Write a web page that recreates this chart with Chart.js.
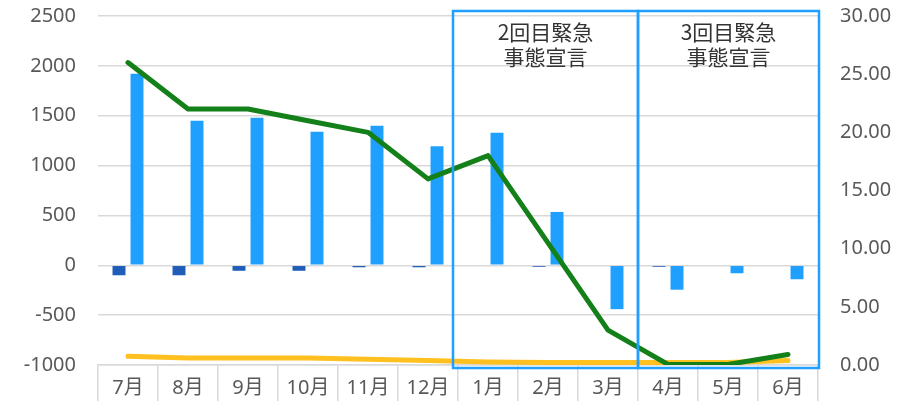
<!DOCTYPE html>
<html lang="ja">
<head>
<meta charset="utf-8">
<script src="https://cdn.jsdelivr.net/npm/chart.js@4.4.1/dist/chart.umd.min.js"></script>
<style>
    html, body { margin: 0; padding: 0; background: #fff; }
</style>
</head>
<body>
<canvas id="chart" width="920" height="401"></canvas>
<script>
// categories
const months = ["7月", "8月", "9月", "10月", "11月", "12月", "1月", "2月", "3月", "4月", "5月", "6月"];

// bars (left axis)
const darkBars = [-100, -100, -55, -55, -20, -20, 0, -15, 0, -15, 0, 0];
const lightBars = [1920, 1450, 1480, 1340, 1400, 1195, 1330, 535, -440, -245, -80, -140];

// lines (right axis)
const greenLine = [26.0, 22.0, 22.0, 21.0, 20.0, 16.0, 18.0, 10.5, 3.0, 0.05, 0.05, 0.9];
const yellowLine = [0.75, 0.6, 0.6, 0.6, 0.5, 0.38, 0.25, 0.22, 0.22, 0.22, 0.22, 0.38];

// axis ticks
const leftTicks = { min: -1000, max: 2500, step: 500 };
const rightTicks = { min: 0, max: 30, step: 5 };

// emergency declaration boxes
const periods = [
    { from: "1月", to: "3月", text: ["2回目緊急", "事態宣言"] },
    { from: "4月", to: "6月", text: ["3回目緊急", "事態宣言"] }
];

const FONT = "'Noto Sans', 'Noto Sans CJK JP', sans-serif";
const GRID = "#d9d9d9";
const LABEL = "#595959";
const BOX = "#1fa0ff";

// draws the two framed periods on top of the data
const periodBoxes = {
    id: "periodBoxes",
    afterDatasetsDraw(chart) {
        const ctx = chart.ctx;
        const x = chart.scales.x;
        const area = chart.chartArea;
        const half = (x.getPixelForValue(1) - x.getPixelForValue(0)) / 2;
        ctx.save();
        periods.forEach((p, i) => {
            let left = x.getPixelForValue(months.indexOf(p.from)) - half;
            let right = x.getPixelForValue(months.indexOf(p.to)) + half;
            if (i === 0) left -= 5;
            if (i === periods.length - 1) right += 1;
            const top = area.top - 5;
            const bottom = area.bottom + 3;
            ctx.strokeStyle = BOX;
            ctx.lineWidth = 2.5;
            ctx.strokeRect(left, top, right - left, bottom - top);

            ctx.fillStyle = "#333333";
            ctx.font = "21px 'Noto Sans CJK JP', sans-serif";
            ctx.textAlign = "center";
            ctx.textBaseline = "middle";
            const cx = (left + right) / 2;
            p.text.forEach((line, j) => {
                ctx.fillText(line, cx, area.top + 16 + j * 25);
            });
        });
        ctx.restore();
    }
};

// fixed side widths; keep the tick padding from pushing the plot down
function sideFit(width) {
    return (scale) => {
        scale.width = width;
        scale.paddingTop = 12;
        scale.paddingBottom = 12;
    };
}

const ctx = document.getElementById("chart").getContext("2d");
const chart = new Chart(ctx, {
    type: "bar",
    data: {
        labels: months,
        datasets: [
            {
                type: "line",
                data: greenLine,
                yAxisID: "y2",
                borderColor: "#13801a",
                borderWidth: 5,
                pointRadius: 0,
                borderCapStyle: "round",
                borderJoinStyle: "round",
                order: 1
            },
            {
                type: "line",
                data: yellowLine,
                yAxisID: "y2",
                borderColor: "#ffc020",
                borderWidth: 5,
                pointRadius: 0,
                borderCapStyle: "round",
                borderJoinStyle: "round",
                order: 2
            },
            {
                data: darkBars,
                yAxisID: "y",
                backgroundColor: "#1f5db8",
                barPercentage: 0.72,
                categoryPercentage: 0.6,
                order: 3
            },
            {
                data: lightBars,
                yAxisID: "y",
                backgroundColor: "#1fa0ff",
                barPercentage: 0.72,
                categoryPercentage: 0.6,
                order: 3
            }
        ]
    },
    options: {
        responsive: false,
        animation: false,
        devicePixelRatio: 1,
        layout: { padding: { top: 16, bottom: 0, left: 0, right: 0 } },
        plugins: {
            legend: { display: false },
            tooltip: { enabled: false }
        },
        scales: {
            x: {
                offset: true,
                grid: {
                    offset: true,
                    drawOnChartArea: false,
                    drawTicks: true,
                    tickLength: 36,
                    color: GRID,
                    lineWidth: 1.5
                },
                border: { display: true, color: GRID, width: 1.5 },
                ticks: {
                    color: LABEL,
                    font: { family: FONT, size: 20 },
                    padding: -25,
                    maxRotation: 0,
                    autoSkip: false
                },
                afterFit(scale) { scale.height = 36; }
            },
            y: {
                position: "left",
                min: leftTicks.min,
                max: leftTicks.max,
                grid: { color: GRID, lineWidth: 1.5, drawTicks: false },
                border: { display: false },
                ticks: {
                    stepSize: leftTicks.step,
                    color: LABEL,
                    font: { family: FONT, size: 20 },
                    padding: 22,
                    callback: (v) => String(v)
                },
                afterFit: sideFit(98)
            },
            y2: {
                position: "right",
                min: rightTicks.min,
                max: rightTicks.max,
                grid: { drawOnChartArea: false, drawTicks: false },
                border: { display: false },
                ticks: {
                    stepSize: rightTicks.step,
                    color: LABEL,
                    font: { family: FONT, size: 20 },
                    padding: 22,
                    callback: (v) => v.toFixed(2)
                },
                afterFit: sideFit(102)
            }
        }
    },
    plugins: [periodBoxes]
});
</script>
</body>
</html>
